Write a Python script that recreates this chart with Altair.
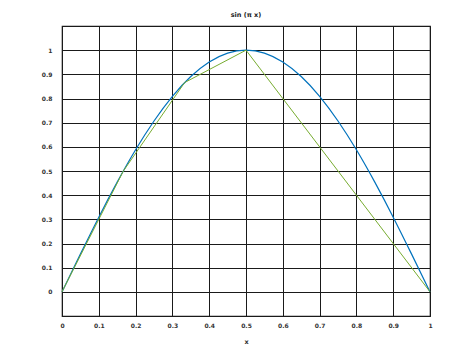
import altair as alt
import pandas as pd

# blue curve: sin(pi x), values read at step 0.05
curve_x = [0.0, 0.05, 0.1, 0.15, 0.2, 0.25, 0.3, 0.35, 0.4, 0.45, 0.5,
           0.55, 0.6, 0.65, 0.7, 0.75, 0.8, 0.85, 0.9, 0.95, 1.0]
curve_y = [0.0, 0.156, 0.309, 0.454, 0.588, 0.707, 0.809, 0.891, 0.951, 0.988, 1.0,
           0.988, 0.951, 0.891, 0.809, 0.707, 0.588, 0.454, 0.309, 0.156, 0.0]

# green piecewise-linear interpolant
poly_x = [0.0, 0.1667, 0.3333, 0.5, 1.0]
poly_y = [0.0, 0.5, 0.866, 1.0, 0.0]

tick_vals = [0.0, 0.1, 0.2, 0.3, 0.4, 0.5, 0.6, 0.7, 0.8, 0.9, 1.0]

curve = pd.DataFrame({"x": curve_x, "y": curve_y})
poly = pd.DataFrame({"x": poly_x, "y": poly_y})

FONT = "DejaVu Sans"

xscale = alt.Scale(domain=[0, 1], nice=False, zero=False)
yscale = alt.Scale(domain=[-0.1, 1.1], nice=False, zero=False)

xaxis = alt.Axis(values=tick_vals, tickCount=11, format="~g", grid=True, gridColor="#1a1a1a",
                 gridOpacity=1, gridWidth=1, domain=False, ticks=False, labelOverlap=False,
                 labelFont=FONT, labelFontSize=6, labelFontWeight="bold", labelColor="#333",
                 labelPadding=6, labelFlush=False,
                 title="x", titleFont=FONT, titleFontSize=6.5, titleFontWeight="bold",
                 titleColor="#333", titlePadding=10)
yaxis = alt.Axis(values=tick_vals, tickCount=12, format="~g", grid=True, gridColor="#1a1a1a",
                 gridOpacity=1, gridWidth=1, domain=False, ticks=False, labelOverlap=False,
                 labelFont=FONT, labelFontSize=6, labelFontWeight="bold", labelColor="#333",
                 labelPadding=10, title=None)

base_curve = alt.Chart(curve).mark_line(color="#0072BD", strokeWidth=1.2,
                                        interpolate="natural").encode(
    x=alt.X("x:Q", scale=xscale, axis=xaxis),
    y=alt.Y("y:Q", scale=yscale, axis=yaxis),
)

base_poly = alt.Chart(poly).mark_line(color="#77AC30", strokeWidth=1).encode(
    x=alt.X("x:Q", scale=xscale, axis=xaxis),
    y=alt.Y("y:Q", scale=yscale, axis=yaxis),
)

chart = alt.layer(base_curve, base_poly).properties(
    width=368, height=290,
    title=alt.TitleParams("sin (π x)", font=FONT, fontSize=6.5, fontWeight="bold",
                          color="#222", offset=8),
    padding={"left": 62, "top": 26, "right": 43, "bottom": 38},
    autosize=alt.AutoSizeParams(type="none"),
    background="white",
).configure_view(stroke="#1a1a1a", strokeWidth=1.2)

chart.save("out.html", embed_options={"renderer": "svg", "actions": False})
